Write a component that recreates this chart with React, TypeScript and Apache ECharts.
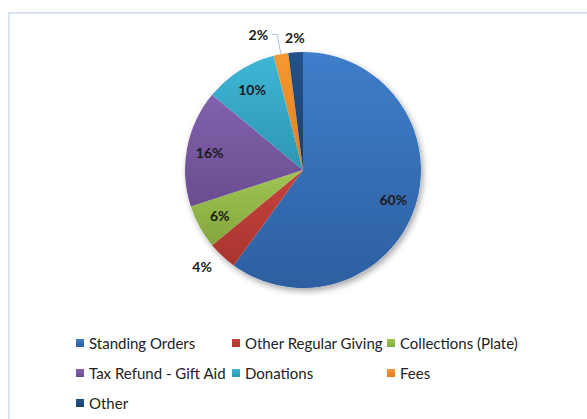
import React, { useEffect, useRef } from 'react';
import * as echarts from 'echarts';

const categories = [
  'Standing Orders',
  'Other Regular Giving',
  'Collections (Plate)',
  'Tax Refund - Gift Aid',
  'Donations',
  'Fees',
  'Other',
];
const values = [60, 4, 6, 16, 10, 2, 2];
const colorsTop = ['#3F7ECB', '#C8423D', '#9FC652', '#8262AC', '#3FB6D6', '#F8982F', '#25528C'];
const colorsBottom = ['#2D5FA0', '#A8352F', '#84A53C', '#6A4D90', '#2D96B2', '#E07E21', '#1B3E6A'];
const legendColumns = [[0, 3, 6], [1, 4], [2, 5]];
const insideLabelIdx = [0, 2, 3, 4];

const FONT = 'Lato';

function grad(i: number) {
  return new echarts.graphic.LinearGradient(0, 0, 0, 1, [
    { offset: 0, color: colorsTop[i] },
    { offset: 1, color: colorsBottom[i] },
  ]);
}

const labelText = {
  fontFamily: FONT,
  fontWeight: 'bold' as const,
  fontSize: 14,
  color: '#1a1a1a',
  formatter: '{c}%',
};

// per-item outside label placement (styling only)
const outsideCfg: Record<number, any> = {
  1: { label: { distanceToLabelLine: 0 }, labelLine: { show: false, length: 15, length2: 0 } },
  5: {
    label: { distanceToLabelLine: 4 },
    labelLine: { show: true, length: 20, length2: 5, lineStyle: { color: '#A9C0DE', width: 1 } },
  },
  6: { label: { distanceToLabelLine: -10 }, labelLine: { show: false, length: 15, length2: 0 } },
};

export default function App() {
  const ref = useRef<HTMLDivElement>(null);
  useEffect(() => {
    if (!ref.current) return;
    const chart = echarts.init(ref.current, undefined, { renderer: 'svg' });
    const center = [303, 170];
    const mainData = categories.map((name, i) => {
      const cfg = outsideCfg[i];
      return {
        name,
        value: values[i],
        itemStyle: { color: grad(i) },
        label: cfg
          ? { show: true, position: 'outside', alignTo: 'none', ...labelText, ...cfg.label }
          : { show: false },
        labelLine: cfg ? cfg.labelLine : { show: false },
      };
    });
    const ghostData = categories.map((name, i) => ({
      name,
      value: values[i],
      label: { show: insideLabelIdx.includes(i) },
    }));
    chart.setOption({
      animation: false,
      backgroundColor: '#ffffff',
      graphic: [
        {
          type: 'rect',
          shape: { x: 9, y: 13, width: 640, height: 460 },
          style: { fill: 'none', stroke: '#D9E3F1', lineWidth: 2 },
          silent: true,
          z: 0,
        },
      ],
      legend: legendColumns.map((col, k) => ({
        orient: 'vertical',
        left: [76, 232, 387][k],
        top: 333,
        padding: 0,
        itemWidth: 8,
        itemHeight: 8,
        itemGap: 10,
        icon: 'rect',
        selectedMode: false,
        data: col.map((j) => categories[j]),
        textStyle: { fontFamily: FONT, fontSize: 15, color: '#222', lineHeight: 20 },
      })),
      series: [
        {
          type: 'pie',
          name: 'backdrop',
          center,
          radius: [0, 118],
          silent: true,
          z: 1,
          label: { show: false },
          labelLine: { show: false },
          itemStyle: {
            color: '#ffffff',
            shadowBlur: 6,
            shadowColor: 'rgba(0,0,0,0.35)',
            shadowOffsetX: 2,
            shadowOffsetY: 3,
          },
          data: [{ name: '', value: 1 }],
        },
        {
          type: 'pie',
          name: 'Income',
          center,
          radius: [0, 118],
          startAngle: 90,
          clockwise: true,
          avoidLabelOverlap: false,
          silent: true,
          z: 2,
          itemStyle: { borderWidth: 0 },
          emphasis: { disabled: true },
          data: mainData,
        },
        {
          type: 'pie',
          name: 'labels',
          center,
          radius: [66, 118],
          startAngle: 90,
          clockwise: true,
          avoidLabelOverlap: false,
          silent: true,
          z: 3,
          itemStyle: { color: 'rgba(0,0,0,0)', borderWidth: 0 },
          emphasis: { disabled: true },
          label: { position: 'inside', ...labelText },
          labelLine: { show: false },
          data: ghostData,
        },
      ],
    });
    return () => chart.dispose();
  }, []);
  return (
    <div
      ref={ref}
      style={{ position: 'fixed', left: 0, top: 0, width: 587, height: 419, background: '#fff' }}
    />
  );
}
